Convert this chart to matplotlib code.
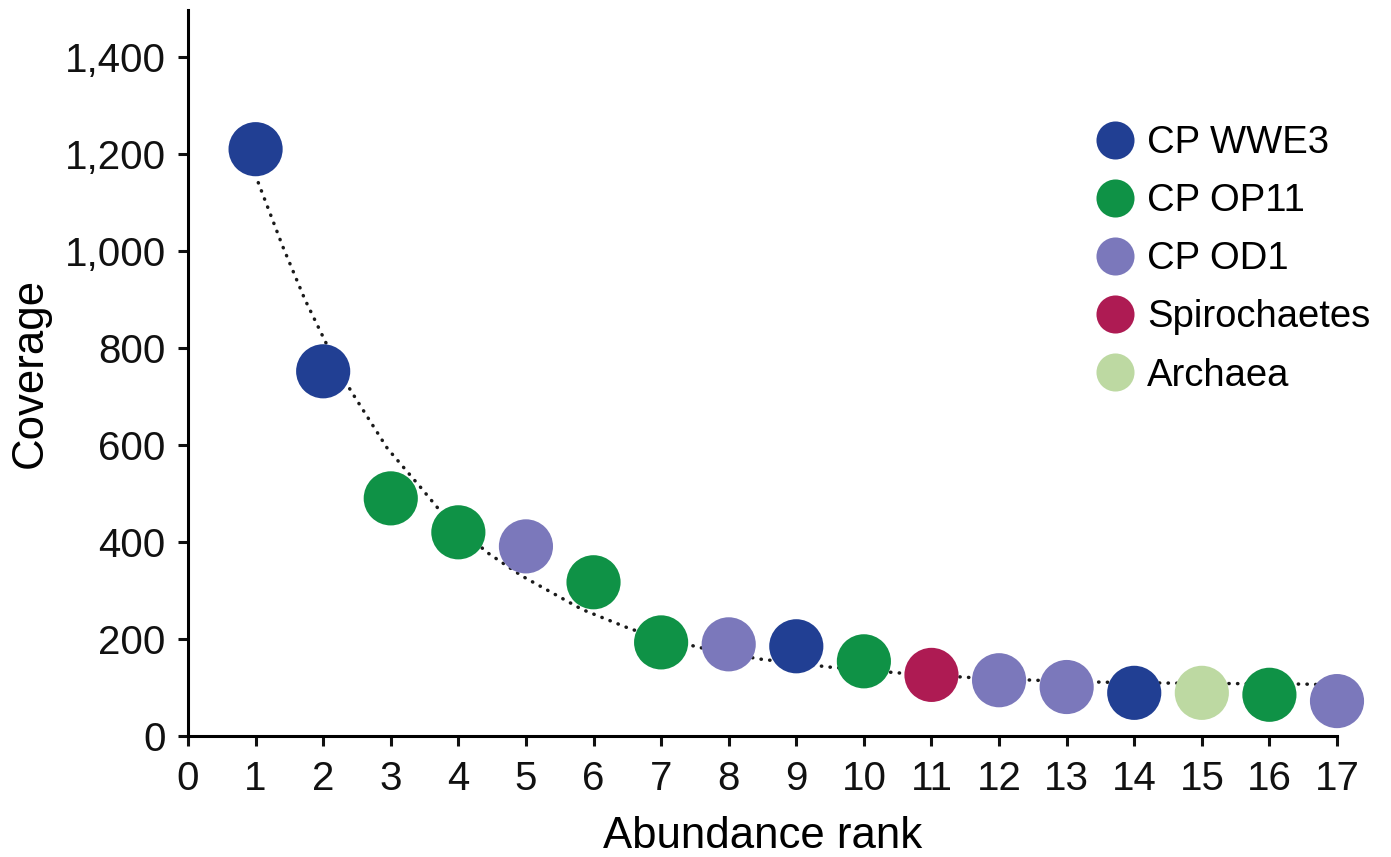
import matplotlib
matplotlib.use("Agg")
import matplotlib.pyplot as plt
from matplotlib.lines import Line2D
from matplotlib.ticker import StrMethodFormatter

plt.rcParams["font.family"] = ["Liberation Sans", "DejaVu Sans"]

# rank-abundance data
ranks = list(range(1, 18))
coverage = [1210, 752, 490, 420, 391, 317, 193, 189, 185, 154, 126, 115, 101, 89, 89, 85, 72]
groups = ["CP WWE3", "CP WWE3", "CP OP11", "CP OP11", "CP OD1", "CP OP11", "CP OP11", "CP OD1",
          "CP WWE3", "CP OP11", "Spirochaetes", "CP OD1", "CP OD1", "CP WWE3", "Archaea",
          "CP OP11", "CP OD1"]

# fitted trend (dotted)
trend_x = [1.04, 1.40, 1.73, 2.04, 2.40, 2.95, 3.44, 3.69, 4.42, 4.94, 5.83, 6.56,
           7.55, 8.44, 9.5, 10.52, 11.52, 12.52, 13.52, 14.56, 15.56, 16.53, 17.0]
trend_y = [1141, 1010, 900, 811, 714, 593, 513, 471, 379, 330, 261, 220,
           183, 159, 142, 130, 121, 115, 111, 109, 108, 107, 105]

legend_order = ["CP WWE3", "CP OP11", "CP OD1", "Spirochaetes", "Archaea"]
palette = {
    "CP WWE3": "#213f93",
    "CP OP11": "#0f9246",
    "CP OD1": "#7b78bb",
    "Spirochaetes": "#ae1b53",
    "Archaea": "#bdd9a2",
}

fig = plt.figure(figsize=(13.91, 8.57), dpi=100)
ax = fig.add_axes([188 / 1391, 1 - 736 / 857, (1337 - 188) / 1391, (736 - 10) / 857])

ax.plot(trend_x, trend_y, color="#1a1a1a", lw=2.5, ls=(0, (0.1, 2.4)),
        dash_capstyle="round", zorder=2)
ax.scatter(ranks, coverage, s=1520, c=[palette[g] for g in groups],
           linewidths=0, zorder=3, clip_on=False)

ax.set_xlim(0, 17)
ax.set_ylim(0, 1497)
ax.set_xticks(range(0, 18))
ax.set_yticks(range(0, 1401, 200))
ax.yaxis.set_major_formatter(StrMethodFormatter("{x:,.0f}"))

for side in ["top", "right"]:
    ax.spines[side].set_visible(False)
for side in ["left", "bottom"]:
    ax.spines[side].set_linewidth(2.2)
ax.tick_params(axis="both", direction="out", length=7, width=2.2,
               labelsize=29, colors="#111111")
ax.tick_params(axis="x", pad=10)
ax.tick_params(axis="y", pad=9)

ax.set_xlabel("Abundance rank", fontsize=31.5, labelpad=13)
ax.set_ylabel("Coverage", fontsize=31.5, labelpad=10)

handles = [Line2D([], [], ls="none", marker="o", markersize=27.4,
                  markerfacecolor=palette[g], markeredgewidth=0) for g in legend_order]
ax.legend(handles, legend_order, loc="upper left", bbox_to_anchor=(1096 / 1391, 1 - 125 / 857),
          bbox_transform=fig.transFigure, frameon=False, fontsize=27.5,
          handlelength=1.0, handletextpad=0.33, labelspacing=0.58, borderpad=0,
          borderaxespad=0)

fig.savefig("out.png", dpi=100)
